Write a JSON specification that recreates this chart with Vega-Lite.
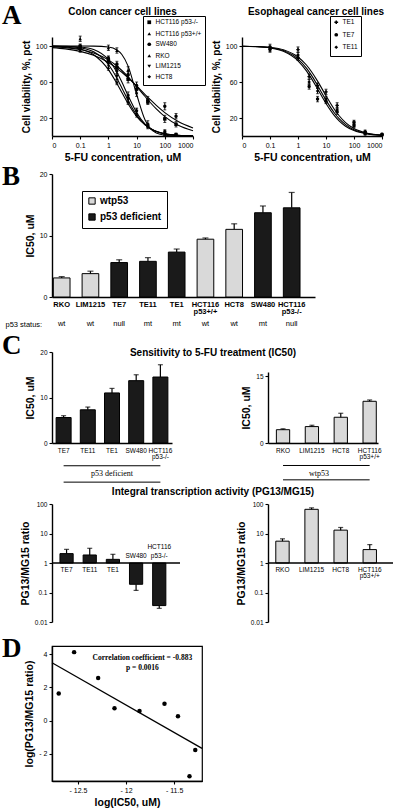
{
  "$schema": "https://vega.github.io/schema/vega-lite/v6.json",
  "background": "white",
  "padding": {"left": 2, "top": 2, "right": 2, "bottom": 0},
  "config": {
    "view": {"stroke": null},
    "font": "Liberation Sans",
    "axis": {"domainColor": "black", "domainWidth": 1.4, "tickColor": "black", "tickWidth": 1.1, "tickSize": 3, "labelColor": "black", "labelFontSize": 7, "labelFont": "Liberation Sans", "titleColor": "black", "titleFont": "Liberation Sans", "titleFontWeight": "bold", "titleFontSize": 10, "grid": false, "labelPadding": 2, "titlePadding": 4},
    "title": {"color": "black", "font": "Liberation Sans", "fontWeight": "bold", "fontSize": 10, "baseline": "alphabetic"},
    "legend": {"titleColor": "black", "labelColor": "black", "labelFont": "Liberation Sans"}
  },
  "resolve": {"scale": {"shape": "independent", "fill": "independent"}, "legend": {"shape": "independent", "fill": "independent"}},
  "datasets": {
    "one": [{"note": "annotation"}],
    "colonCurve": [
      {"line": "RKO", "conc": 0.01, "pct": 99.6}, {"line": "RKO", "conc": 0.03, "pct": 98.9}, {"line": "RKO", "conc": 0.1, "pct": 96.6}, {"line": "RKO", "conc": 0.3, "pct": 90.3}, {"line": "RKO", "conc": 1, "pct": 73.7}, {"line": "RKO", "conc": 2, "pct": 58.3}, {"line": "RKO", "conc": 3, "pct": 48.3}, {"line": "RKO", "conc": 5, "pct": 35.9}, {"line": "RKO", "conc": 10, "pct": 21.9}, {"line": "RKO", "conc": 20, "pct": 12.3}, {"line": "RKO", "conc": 30, "pct": 8.5}, {"line": "RKO", "conc": 50, "pct": 5.3}, {"line": "RKO", "conc": 100, "pct": 2.7}, {"line": "RKO", "conc": 300, "pct": 0.9}, {"line": "RKO", "conc": 1000, "pct": 0.3},
      {"line": "LIM1215", "conc": 0.01, "pct": 99.8}, {"line": "LIM1215", "conc": 0.03, "pct": 99.5}, {"line": "LIM1215", "conc": 0.1, "pct": 98.0}, {"line": "LIM1215", "conc": 0.3, "pct": 93.5}, {"line": "LIM1215", "conc": 1, "pct": 79.4}, {"line": "LIM1215", "conc": 2, "pct": 64.2}, {"line": "LIM1215", "conc": 3, "pct": 53.4}, {"line": "LIM1215", "conc": 5, "pct": 39.5}, {"line": "LIM1215", "conc": 10, "pct": 23.4}, {"line": "LIM1215", "conc": 20, "pct": 12.5}, {"line": "LIM1215", "conc": 30, "pct": 8.4}, {"line": "LIM1215", "conc": 50, "pct": 4.9}, {"line": "LIM1215", "conc": 100, "pct": 2.4}, {"line": "LIM1215", "conc": 300, "pct": 0.7}, {"line": "LIM1215", "conc": 1000, "pct": 0.2},
      {"line": "HCT8", "conc": 0.01, "pct": 99.9}, {"line": "HCT8", "conc": 0.03, "pct": 99.7}, {"line": "HCT8", "conc": 0.1, "pct": 98.9}, {"line": "HCT8", "conc": 0.3, "pct": 96.0}, {"line": "HCT8", "conc": 1, "pct": 84.8}, {"line": "HCT8", "conc": 2, "pct": 70.9}, {"line": "HCT8", "conc": 3, "pct": 60.0}, {"line": "HCT8", "conc": 5, "pct": 44.8}, {"line": "HCT8", "conc": 10, "pct": 26.1}, {"line": "HCT8", "conc": 20, "pct": 13.3}, {"line": "HCT8", "conc": 30, "pct": 8.6}, {"line": "HCT8", "conc": 50, "pct": 4.9}, {"line": "HCT8", "conc": 100, "pct": 2.2}, {"line": "HCT8", "conc": 300, "pct": 0.6}, {"line": "HCT8", "conc": 1000, "pct": 0.1},
      {"line": "HCT116 p53+/+", "conc": 0.01, "pct": 100}, {"line": "HCT116 p53+/+", "conc": 0.03, "pct": 100}, {"line": "HCT116 p53+/+", "conc": 0.1, "pct": 100}, {"line": "HCT116 p53+/+", "conc": 0.3, "pct": 99.9}, {"line": "HCT116 p53+/+", "conc": 1, "pct": 98.9}, {"line": "HCT116 p53+/+", "conc": 2, "pct": 95.6}, {"line": "HCT116 p53+/+", "conc": 3, "pct": 90.6}, {"line": "HCT116 p53+/+", "conc": 5, "pct": 77.6}, {"line": "HCT116 p53+/+", "conc": 10, "pct": 46.4}, {"line": "HCT116 p53+/+", "conc": 20, "pct": 17.8}, {"line": "HCT116 p53+/+", "conc": 30, "pct": 8.8}, {"line": "HCT116 p53+/+", "conc": 50, "pct": 3.3}, {"line": "HCT116 p53+/+", "conc": 100, "pct": 0.9}, {"line": "HCT116 p53+/+", "conc": 300, "pct": 0.1}, {"line": "HCT116 p53+/+", "conc": 1000, "pct": 0.0},
      {"line": "SW480", "conc": 0.01, "pct": 99.1}, {"line": "SW480", "conc": 0.03, "pct": 98.2}, {"line": "SW480", "conc": 0.1, "pct": 96.1}, {"line": "SW480", "conc": 0.3, "pct": 92.3}, {"line": "SW480", "conc": 1, "pct": 84.6}, {"line": "SW480", "conc": 2, "pct": 77.8}, {"line": "SW480", "conc": 3, "pct": 72.8}, {"line": "SW480", "conc": 5, "pct": 65.8}, {"line": "SW480", "conc": 10, "pct": 55.1}, {"line": "SW480", "conc": 20, "pct": 43.9}, {"line": "SW480", "conc": 30, "pct": 37.5}, {"line": "SW480", "conc": 50, "pct": 30.1}, {"line": "SW480", "conc": 100, "pct": 21.6}, {"line": "SW480", "conc": 300, "pct": 11.9}, {"line": "SW480", "conc": 1000, "pct": 5.8},
      {"line": "HCT116 p53-/-", "conc": 0.01, "pct": 98.2}, {"line": "HCT116 p53-/-", "conc": 0.03, "pct": 96.8}, {"line": "HCT116 p53-/-", "conc": 0.1, "pct": 94.0}, {"line": "HCT116 p53-/-", "conc": 0.3, "pct": 89.6}, {"line": "HCT116 p53-/-", "conc": 1, "pct": 81.6}, {"line": "HCT116 p53-/-", "conc": 2, "pct": 75.2}, {"line": "HCT116 p53-/-", "conc": 3, "pct": 70.8}, {"line": "HCT116 p53-/-", "conc": 5, "pct": 64.6}, {"line": "HCT116 p53-/-", "conc": 10, "pct": 55.6}, {"line": "HCT116 p53-/-", "conc": 20, "pct": 46.0}, {"line": "HCT116 p53-/-", "conc": 30, "pct": 40.6}, {"line": "HCT116 p53-/-", "conc": 50, "pct": 34.0}, {"line": "HCT116 p53-/-", "conc": 100, "pct": 26.0}, {"line": "HCT116 p53-/-", "conc": 300, "pct": 16.1}, {"line": "HCT116 p53-/-", "conc": 1000, "pct": 9.0}
    ],
    "colonPts": [
      {"line": "RKO", "conc": 0.1, "pct": 97, "err": 3}, {"line": "RKO", "conc": 1, "pct": 76, "err": 3}, {"line": "RKO", "conc": 2, "pct": 60, "err": 3}, {"line": "RKO", "conc": 5, "pct": 38, "err": 3}, {"line": "RKO", "conc": 10, "pct": 24, "err": 3}, {"line": "RKO", "conc": 25, "pct": 11, "err": 2}, {"line": "RKO", "conc": 100, "pct": 4, "err": 2}, {"line": "RKO", "conc": 250, "pct": 2, "err": 1},
      {"line": "LIM1215", "conc": 0.1, "pct": 99, "err": 3}, {"line": "LIM1215", "conc": 1, "pct": 81, "err": 3}, {"line": "LIM1215", "conc": 2, "pct": 66, "err": 3}, {"line": "LIM1215", "conc": 5, "pct": 42, "err": 4}, {"line": "LIM1215", "conc": 10, "pct": 27, "err": 3}, {"line": "LIM1215", "conc": 25, "pct": 10, "err": 2}, {"line": "LIM1215", "conc": 100, "pct": 3, "err": 1}, {"line": "LIM1215", "conc": 250, "pct": 1, "err": 1},
      {"line": "HCT8", "conc": 0.1, "pct": 96, "err": 3}, {"line": "HCT8", "conc": 1, "pct": 85, "err": 3}, {"line": "HCT8", "conc": 2, "pct": 72, "err": 3}, {"line": "HCT8", "conc": 5, "pct": 45, "err": 4}, {"line": "HCT8", "conc": 10, "pct": 28, "err": 3}, {"line": "HCT8", "conc": 25, "pct": 12, "err": 2}, {"line": "HCT8", "conc": 100, "pct": 5, "err": 2}, {"line": "HCT8", "conc": 250, "pct": 2, "err": 1},
      {"line": "HCT116 p53+/+", "conc": 0.1, "pct": 108, "err": 3}, {"line": "HCT116 p53+/+", "conc": 1, "pct": 98, "err": 3}, {"line": "HCT116 p53+/+", "conc": 2, "pct": 95, "err": 3}, {"line": "HCT116 p53+/+", "conc": 5, "pct": 73, "err": 4}, {"line": "HCT116 p53+/+", "conc": 10, "pct": 48, "err": 4}, {"line": "HCT116 p53+/+", "conc": 25, "pct": 14, "err": 3}, {"line": "HCT116 p53+/+", "conc": 100, "pct": 2, "err": 1}, {"line": "HCT116 p53+/+", "conc": 250, "pct": 1, "err": 1},
      {"line": "SW480", "conc": 0.1, "pct": 97, "err": 3}, {"line": "SW480", "conc": 1, "pct": 86, "err": 3}, {"line": "SW480", "conc": 2, "pct": 80, "err": 3}, {"line": "SW480", "conc": 5, "pct": 68, "err": 4}, {"line": "SW480", "conc": 10, "pct": 56, "err": 4}, {"line": "SW480", "conc": 25, "pct": 40, "err": 4}, {"line": "SW480", "conc": 100, "pct": 33, "err": 4}, {"line": "SW480", "conc": 250, "pct": 22, "err": 3},
      {"line": "HCT116 p53-/-", "conc": 0.1, "pct": 99, "err": 3}, {"line": "HCT116 p53-/-", "conc": 1, "pct": 84, "err": 3}, {"line": "HCT116 p53-/-", "conc": 2, "pct": 76, "err": 3}, {"line": "HCT116 p53-/-", "conc": 5, "pct": 63, "err": 4}, {"line": "HCT116 p53-/-", "conc": 10, "pct": 52, "err": 4}, {"line": "HCT116 p53-/-", "conc": 25, "pct": 38, "err": 3}, {"line": "HCT116 p53-/-", "conc": 100, "pct": 19, "err": 4}, {"line": "HCT116 p53-/-", "conc": 250, "pct": 13, "err": 3}
    ],
    "esoCurve": [
      {"line": "TE7", "conc": 0.01, "pct": 99.8}, {"line": "TE7", "conc": 0.03, "pct": 99.3}, {"line": "TE7", "conc": 0.1, "pct": 97.8}, {"line": "TE7", "conc": 0.3, "pct": 94.1}, {"line": "TE7", "conc": 1, "pct": 83.5}, {"line": "TE7", "conc": 2, "pct": 72.3}, {"line": "TE7", "conc": 3, "pct": 64.0}, {"line": "TE7", "conc": 5, "pct": 52.3}, {"line": "TE7", "conc": 10, "pct": 36.2}, {"line": "TE7", "conc": 20, "pct": 22.7}, {"line": "TE7", "conc": 30, "pct": 16.6}, {"line": "TE7", "conc": 50, "pct": 10.9}, {"line": "TE7", "conc": 100, "pct": 6.0}, {"line": "TE7", "conc": 300, "pct": 2.2}, {"line": "TE7", "conc": 1000, "pct": 0.7},
      {"line": "TE11", "conc": 0.01, "pct": 99.8}, {"line": "TE11", "conc": 0.03, "pct": 99.4}, {"line": "TE11", "conc": 0.1, "pct": 98.1}, {"line": "TE11", "conc": 0.3, "pct": 94.9}, {"line": "TE11", "conc": 1, "pct": 85.5}, {"line": "TE11", "conc": 2, "pct": 75.4}, {"line": "TE11", "conc": 3, "pct": 67.6}, {"line": "TE11", "conc": 5, "pct": 56.2}, {"line": "TE11", "conc": 10, "pct": 39.9}, {"line": "TE11", "conc": 20, "pct": 25.6}, {"line": "TE11", "conc": 30, "pct": 19.0}, {"line": "TE11", "conc": 50, "pct": 12.6}, {"line": "TE11", "conc": 100, "pct": 6.9}, {"line": "TE11", "conc": 300, "pct": 2.6}, {"line": "TE11", "conc": 1000, "pct": 0.8},
      {"line": "TE1", "conc": 0.01, "pct": 99.8}, {"line": "TE1", "conc": 0.03, "pct": 99.5}, {"line": "TE1", "conc": 0.1, "pct": 98.5}, {"line": "TE1", "conc": 0.3, "pct": 95.8}, {"line": "TE1", "conc": 1, "pct": 87.8}, {"line": "TE1", "conc": 2, "pct": 78.9}, {"line": "TE1", "conc": 3, "pct": 71.7}, {"line": "TE1", "conc": 5, "pct": 61.0}, {"line": "TE1", "conc": 10, "pct": 44.7}, {"line": "TE1", "conc": 20, "pct": 29.5}, {"line": "TE1", "conc": 30, "pct": 22.2}, {"line": "TE1", "conc": 50, "pct": 14.9}, {"line": "TE1", "conc": 100, "pct": 8.3}, {"line": "TE1", "conc": 300, "pct": 3.1}, {"line": "TE1", "conc": 1000, "pct": 1.0}
    ],
    "esoPts": [
      {"line": "TE1", "conc": 0.1, "pct": 99, "err": 3}, {"line": "TE1", "conc": 1, "pct": 96, "err": 3}, {"line": "TE1", "conc": 2.5, "pct": 66, "err": 3}, {"line": "TE1", "conc": 5, "pct": 56, "err": 3}, {"line": "TE1", "conc": 10, "pct": 49, "err": 3}, {"line": "TE1", "conc": 25, "pct": 34, "err": 3}, {"line": "TE1", "conc": 100, "pct": 15.5, "err": 2}, {"line": "TE1", "conc": 250, "pct": 5, "err": 1.5}, {"line": "TE1", "conc": 1000, "pct": 2, "err": 1},
      {"line": "TE11", "conc": 0.1, "pct": 97, "err": 3}, {"line": "TE11", "conc": 1, "pct": 90, "err": 3}, {"line": "TE11", "conc": 2.5, "pct": 60, "err": 3}, {"line": "TE11", "conc": 5, "pct": 50, "err": 3}, {"line": "TE11", "conc": 10, "pct": 41, "err": 3}, {"line": "TE11", "conc": 25, "pct": 29, "err": 3}, {"line": "TE11", "conc": 100, "pct": 13, "err": 2}, {"line": "TE11", "conc": 250, "pct": 3.5, "err": 1.5}, {"line": "TE11", "conc": 1000, "pct": 1.5, "err": 1},
      {"line": "TE7", "conc": 0.1, "pct": 96, "err": 3}, {"line": "TE7", "conc": 1, "pct": 87, "err": 3}, {"line": "TE7", "conc": 2.5, "pct": 55, "err": 3}, {"line": "TE7", "conc": 5, "pct": 41, "err": 3}, {"line": "TE7", "conc": 10, "pct": 39, "err": 3}, {"line": "TE7", "conc": 25, "pct": 27, "err": 3}, {"line": "TE7", "conc": 100, "pct": 11.5, "err": 2}, {"line": "TE7", "conc": 250, "pct": 2.5, "err": 1.5}, {"line": "TE7", "conc": 1000, "pct": 1, "err": 1}
    ],
    "ic50B": [
      {"cell": "RKO", "ic50": 3.1, "hi": 3.3, "group": "wtp53", "status": "wt"},
      {"cell": "LIM1215", "ic50": 3.8, "hi": 4.2, "group": "wtp53", "status": "wt"},
      {"cell": "TE7", "ic50": 5.6, "hi": 6.05, "group": "p53 deficient", "status": "null"},
      {"cell": "TE11", "ic50": 5.8, "hi": 6.4, "group": "p53 deficient", "status": "mt"},
      {"cell": "TE1", "ic50": 7.3, "hi": 7.8, "group": "p53 deficient", "status": "mt"},
      {"cell": "HCT116 p53+/+", "ic50": 9.4, "hi": 9.6, "group": "wtp53", "status": "wt"},
      {"cell": "HCT8", "ic50": 11.0, "hi": 11.9, "group": "wtp53", "status": "wt"},
      {"cell": "SW480", "ic50": 13.7, "hi": 14.8, "group": "p53 deficient", "status": "mt"},
      {"cell": "HCT116 p53-/-", "ic50": 14.5, "hi": 17.0, "group": "p53 deficient", "status": "null"}
    ],
    "ic50CL": [
      {"cell": "TE7", "ic50": 5.6, "hi": 6.0},
      {"cell": "TE11", "ic50": 7.3, "hi": 7.9},
      {"cell": "TE1", "ic50": 11.0, "hi": 12.0},
      {"cell": "SW480", "ic50": 13.7, "hi": 15.0},
      {"cell": "HCT116 p53-/-", "ic50": 14.5, "hi": 17.2}
    ],
    "ic50CR": [
      {"cell": "RKO", "ic50": 3.0, "hi": 3.2},
      {"cell": "LIM1215", "ic50": 3.7, "hi": 4.0},
      {"cell": "HCT8", "ic50": 5.8, "hi": 6.7},
      {"cell": "HCT116 p53+/+", "ic50": 9.4, "hi": 9.7}
    ],
    "ratioL": [
      {"cell": "TE7", "ratio": 2.08, "errEnd": 2.9},
      {"cell": "TE11", "ratio": 1.87, "errEnd": 3.15},
      {"cell": "TE1", "ratio": 1.33, "errEnd": 1.97},
      {"cell": "SW480", "ratio": 0.19, "errEnd": 0.118},
      {"cell": "HCT116 p53-/-", "ratio": 0.036, "errEnd": 0.029}
    ],
    "ratioR": [
      {"cell": "RKO", "ratio": 5.5, "errEnd": 6.6},
      {"cell": "LIM1215", "ratio": 66, "errEnd": 74},
      {"cell": "HCT8", "ratio": 13, "errEnd": 16},
      {"cell": "HCT116 p53+/+", "ratio": 2.85, "errEnd": 4.2}
    ],
    "corr": [
      {"logIC50": -12.70, "logRatio": 1.64},
      {"logIC50": -12.54, "logRatio": 4.13},
      {"logIC50": -12.29, "logRatio": 2.57},
      {"logIC50": -12.12, "logRatio": 0.74},
      {"logIC50": -11.86, "logRatio": 0.58},
      {"logIC50": -11.60, "logRatio": 1.02},
      {"logIC50": -11.46, "logRatio": 0.26},
      {"logIC50": -11.28, "logRatio": -1.77},
      {"logIC50": -11.34, "logRatio": -3.36}
    ],
    "fit": [
      {"logIC50": -12.77, "logRatio": 3.49},
      {"logIC50": -11.21, "logRatio": -1.67}
    ]
  },
  "columns": 4,
  "spacing": 0,
  "bounds": "flush",
  "concat": [
    {"width": 50, "height": 1, "data": {"values": []}, "mark": "point",
     "title": {"text": "A", "anchor": "start", "frame": "group", "baseline": "top", "offset": 6.7, "font": "Liberation Serif", "fontSize": 27, "fontWeight": "bold"}},
    {
      "width": 141, "height": 99,
      "title": {"text": "Colon cancer cell lines", "frame": "group", "offset": -1.5},
      "layer": [
        {"data": {"name": "colonCurve"}, "mark": {"type": "line", "interpolate": "monotone", "color": "black", "strokeWidth": 1.1},
         "encoding": {
           "x": {"field": "conc", "type": "quantitative", "scale": {"type": "log", "domain": [0.01, 1000]}, "axis": {"values": [0.01, 0.1, 1, 10, 100, 1000], "format": "~g", "labelExpr": "datum.value < 0.05 ? '0' : datum.label", "title": "5-FU concentration, uM", "titleFontSize": 10.5}},
           "y": {"field": "pct", "type": "quantitative", "scale": {"domain": [0, 106]}, "axis": {"values": [20, 40, 60, 80, 100], "title": "Cell viability, %"}},
           "detail": {"field": "line"}}},
        {"data": {"name": "colonPts"}, "mark": {"type": "errorbar", "color": "black", "ticks": {"size": 3}},
         "encoding": {"x": {"field": "conc", "type": "quantitative"}, "y": {"field": "pct", "type": "quantitative"}, "yError": {"field": "err"}}},
        {"data": {"name": "colonPts"}, "mark": {"type": "point", "filled": true, "color": "black", "size": 12, "opacity": 1},
         "encoding": {
           "x": {"field": "conc", "type": "quantitative"},
           "y": {"field": "pct", "type": "quantitative"},
           "shape": {"field": "line", "type": "nominal", "scale": {"domain": ["HCT116 p53-/-", "HCT116 p53+/+", "SW480", "RKO", "LIM1215", "HCT8"], "range": ["square", "triangle-up", "circle", "triangle-up", "triangle-down", "diamond"]},
             "legend": {"title": null, "orient": "none", "legendX": 91, "legendY": -21, "strokeColor": "black", "padding": 3, "labelFontSize": 6.5, "labelOffset": 3, "symbolSize": 14, "rowPadding": 0.5, "symbolFillColor": "black", "symbolStrokeColor": "black", "fillColor": "white"}}}}
      ]
    },
    {"width": 66, "height": 1, "data": {"values": []}, "mark": "point"},
    {
      "width": 114, "height": 99,
      "title": {"text": "Esophageal cancer cell lines", "frame": "group", "offset": -1.5, "dx": -9},
      "layer": [
        {"data": {"name": "esoCurve"}, "mark": {"type": "line", "interpolate": "monotone", "color": "black", "strokeWidth": 1.1},
         "encoding": {
           "x": {"field": "conc", "type": "quantitative", "scale": {"type": "log", "domain": [0.01, 1000], "range": [-26, 114]}, "axis": {"values": [0.01, 0.1, 1, 10, 100, 1000], "format": "~g", "labelExpr": "datum.value < 0.05 ? '0' : datum.label", "title": "5-FU concentration, uM", "titleFontSize": 10.5, "titleX": 44}},
           "y": {"field": "pct", "type": "quantitative", "scale": {"domain": [0, 106]}, "axis": {"values": [20, 40, 60, 80, 100], "title": "Cell viability, %", "offset": 26}},
           "detail": {"field": "line"}}},
        {"data": {"name": "esoPts"}, "mark": {"type": "errorbar", "color": "black", "ticks": {"size": 3}},
         "encoding": {"x": {"field": "conc", "type": "quantitative"}, "y": {"field": "pct", "type": "quantitative"}, "yError": {"field": "err"}}},
        {"data": {"name": "esoPts"}, "mark": {"type": "point", "filled": true, "color": "black", "size": 12, "opacity": 1},
         "encoding": {
           "x": {"field": "conc", "type": "quantitative"},
           "y": {"field": "pct", "type": "quantitative"},
           "shape": {"field": "line", "type": "nominal", "scale": {"domain": ["TE1", "TE7", "TE11"], "range": ["cross", "circle", "diamond"]},
             "legend": {"title": null, "orient": "none", "legendX": 62, "legendY": -21, "strokeColor": "black", "padding": 3, "labelFontSize": 6.5, "labelOffset": 3, "symbolSize": 14, "rowPadding": 1.5, "symbolFillColor": "black", "symbolStrokeColor": "black", "fillColor": "white"}}}}
      ]
    },

    {"width": 50, "height": 37.3, "data": {"values": []}, "mark": "point"},
    {"width": 1, "height": 1, "data": {"values": []}, "mark": "point"},
    {"width": 1, "height": 1, "data": {"values": []}, "mark": "point"},
    {"width": 1, "height": 1, "data": {"values": []}, "mark": "point"},

    {"width": 50, "height": 1, "data": {"values": []}, "mark": "point",
     "title": {"text": "B", "anchor": "start", "frame": "group", "offset": -17, "font": "Liberation Serif", "fontSize": 27, "fontWeight": "bold"}},
    {
      "width": 150, "height": 123,
      "data": {"name": "ic50B"},
      "encoding": {
        "x": {"field": "cell", "type": "nominal", "sort": null,
          "scale": {"domain": ["RKO", "LIM1215", "TE7", "TE11", "TE1", "HCT116 p53+/+", "HCT8", "SW480", "HCT116 p53-/-"], "range": [0, 263], "paddingInner": 0.42, "paddingOuter": 0.284, "align": 0.083},
          "axis": {"labelAngle": 0, "ticks": false, "labelFontSize": 7.5, "labelFontWeight": "bold", "labelLineHeight": 7.5, "labelPadding": 3,
            "labelExpr": "indexof(datum.label, ' ') < 0 ? datum.label : [slice(datum.label, 0, indexof(datum.label, ' ')), slice(datum.label, indexof(datum.label, ' ') + 1)]",
            "title": "p53 status:", "titleAngle": 0, "titleFontWeight": "normal", "titleFontSize": 7.5, "titleX": -47, "titleY": 27, "titleAlign": "left", "titleBaseline": "middle"}}
      },
      "layer": [
        {"mark": {"type": "bar", "stroke": "black", "strokeWidth": 1},
         "encoding": {
           "y": {"field": "ic50", "type": "quantitative", "scale": {"domain": [0, 20]}, "axis": {"values": [0, 5, 10, 15, 20], "title": "IC50, uM", "titleFontSize": 10.5}},
           "fill": {"field": "group", "type": "nominal", "scale": {"domain": ["wtp53", "p53 deficient"], "range": ["#d9d9d9", "#1a1a1a"]},
             "legend": {"title": null, "orient": "none", "legendX": 30, "legendY": 17, "strokeColor": "black", "padding": 5, "labelFontSize": 10, "labelFontWeight": "bold", "symbolType": "square", "symbolSize": 40, "symbolStrokeColor": "black", "symbolStrokeWidth": 1, "rowPadding": 4, "labelOffset": 3, "fillColor": "white"}}}},
        {"mark": {"type": "rule", "color": "black", "strokeWidth": 1.2}, "encoding": {"y": {"field": "ic50", "type": "quantitative"}, "y2": {"field": "hi"}}},
        {"mark": {"type": "tick", "color": "black", "size": 6, "thickness": 1.2}, "encoding": {"y": {"field": "hi", "type": "quantitative"}}},
        {"mark": {"type": "text", "baseline": "middle", "dy": 27, "fontSize": 7.5, "color": "black"}, "encoding": {"y": {"datum": 0}, "text": {"field": "status"}}}
      ]
    },
    {"width": 1, "height": 1, "data": {"values": []}, "mark": "point"},
    {"width": 1, "height": 1, "data": {"values": []}, "mark": "point"},

    {"width": 50, "height": 55, "data": {"values": []}, "mark": "point"},
    {"width": 1, "height": 1, "data": {"values": []}, "mark": "point"},
    {"width": 1, "height": 1, "data": {"values": []}, "mark": "point"},
    {"width": 1, "height": 1, "data": {"values": []}, "mark": "point"},

    {"width": 50, "height": 1, "data": {"values": []}, "mark": "point",
     "title": {"text": "C", "anchor": "start", "frame": "group", "offset": -8, "font": "Liberation Serif", "fontSize": 27, "fontWeight": "bold"}},
    {
      "width": 120, "height": 91,
      "layer": [
        {"data": {"name": "ic50CL"}, "mark": {"type": "bar", "color": "#1a1a1a", "stroke": "black", "strokeWidth": 1},
         "encoding": {
           "x": {"field": "cell", "type": "nominal", "scale": {"domain": ["TE7", "TE11", "TE1", "SW480", "HCT116 p53-/-"], "paddingInner": 0.38, "paddingOuter": 0.17},
             "axis": {"title": null, "labelAngle": 0, "ticks": false, "labelFontSize": 6.5, "labelLineHeight": 6, "labelPadding": 4,
               "labelExpr": "indexof(datum.label, ' ') < 0 ? datum.label : [slice(datum.label, 0, indexof(datum.label, ' ')), slice(datum.label, indexof(datum.label, ' ') + 1)]"}},
           "y": {"field": "ic50", "type": "quantitative", "scale": {"domain": [0, 20]}, "axis": {"values": [0, 10, 20], "title": "IC50, uM", "titleFontSize": 10.5, "labelFontSize": 6.5}}}},
        {"data": {"name": "ic50CL"}, "mark": {"type": "rule", "color": "black", "strokeWidth": 1.2}, "encoding": {"x": {"field": "cell", "type": "nominal"}, "y": {"field": "ic50", "type": "quantitative"}, "y2": {"field": "hi"}}},
        {"data": {"name": "ic50CL"}, "mark": {"type": "tick", "color": "black", "size": 5, "thickness": 1.2}, "encoding": {"x": {"field": "cell", "type": "nominal"}, "y": {"field": "hi", "type": "quantitative"}}},
        {"data": {"name": "one"}, "mark": {"type": "rule", "color": "black", "strokeWidth": 1}, "encoding": {"x": {"datum": "TE7"}, "x2": {"datum": "HCT116 p53-/-"}, "y": {"datum": -5}}},
        {"data": {"name": "one"}, "mark": {"type": "rule", "color": "black", "strokeWidth": 1}, "encoding": {"x": {"datum": "TE7"}, "x2": {"datum": "HCT116 p53-/-"}, "y": {"datum": -8.6}}},
        {"data": {"name": "one"}, "mark": {"type": "text", "text": "p53 deficient", "font": "Liberation Serif", "fontSize": 8, "baseline": "middle", "color": "black"}, "encoding": {"x": {"datum": "TE1"}, "y": {"datum": -6.9}}}
      ]
    },
    {"width": 66, "height": 1, "data": {"values": []}, "mark": "point",
     "title": {"text": "Sensitivity to 5-FU treatment (IC50)", "frame": "group", "offset": -6, "dx": -22, "fontSize": 10}},
    {
      "width": 110, "height": 91,
      "layer": [
        {"data": {"name": "ic50CR"}, "mark": {"type": "bar", "color": "#d9d9d9", "stroke": "black", "strokeWidth": 1},
         "encoding": {
           "x": {"field": "cell", "type": "nominal", "scale": {"domain": ["RKO", "LIM1215", "HCT8", "HCT116 p53+/+"], "paddingInner": 0.54, "paddingOuter": 0.175, "align": 0.83},
             "axis": {"title": null, "labelAngle": 0, "ticks": false, "labelFontSize": 6.5, "labelLineHeight": 6, "labelPadding": 4,
               "labelExpr": "indexof(datum.label, ' ') < 0 ? datum.label : [slice(datum.label, 0, indexof(datum.label, ' ')), slice(datum.label, indexof(datum.label, ' ') + 1)]"}},
           "y": {"field": "ic50", "type": "quantitative", "scale": {"domain": [0, 15], "range": [91, 20]}, "axis": {"values": [0, 5, 10, 15], "title": "IC50, uM", "titleFontSize": 10.5, "labelFontSize": 6.5}}}},
        {"data": {"name": "ic50CR"}, "mark": {"type": "rule", "color": "black", "strokeWidth": 1.2}, "encoding": {"x": {"field": "cell", "type": "nominal"}, "y": {"field": "ic50", "type": "quantitative"}, "y2": {"field": "hi"}}},
        {"data": {"name": "ic50CR"}, "mark": {"type": "tick", "color": "black", "size": 5, "thickness": 1.2}, "encoding": {"x": {"field": "cell", "type": "nominal"}, "y": {"field": "hi", "type": "quantitative"}}},
        {"data": {"name": "one"}, "mark": {"type": "rule", "color": "black", "strokeWidth": 1}, "encoding": {"x": {"datum": "RKO"}, "x2": {"datum": "HCT116 p53+/+"}, "y": {"datum": -5.07}}},
        {"data": {"name": "one"}, "mark": {"type": "rule", "color": "black", "strokeWidth": 1}, "encoding": {"x": {"datum": "RKO"}, "x2": {"datum": "HCT116 p53+/+"}, "y": {"datum": -8.3}}},
        {"data": {"name": "one"}, "mark": {"type": "text", "text": "wtp53", "font": "Liberation Serif", "fontSize": 8, "baseline": "middle", "dx": 7, "color": "black"}, "encoding": {"x": {"datum": "LIM1215"}, "y": {"datum": -6.9}}}
      ]
    },

    {"width": 50, "height": 61, "data": {"values": []}, "mark": "point"},
    {"width": 1, "height": 1, "data": {"values": []}, "mark": "point"},
    {"width": 1, "height": 1, "data": {"values": []}, "mark": "point"},
    {"width": 1, "height": 1, "data": {"values": []}, "mark": "point"},

    {"width": 50, "height": 1, "data": {"values": []}, "mark": "point"},
    {
      "width": 128, "height": 118,
      "layer": [
        {"data": {"name": "ratioL"}, "mark": {"type": "bar", "color": "#1a1a1a", "stroke": "black", "strokeWidth": 1},
         "encoding": {
           "x": {"field": "cell", "type": "nominal", "scale": {"domain": ["TE7", "TE11", "TE1", "SW480", "HCT116 p53-/-"], "paddingInner": 0.43, "paddingOuter": 0.477, "align": 0.36}, "axis": null},
           "y": {"field": "ratio", "type": "quantitative", "scale": {"type": "log", "domain": [0.01, 100]}, "axis": {"values": [0.01, 0.1, 1, 10, 100], "format": "~g", "title": "PG13/MG15 ratio", "titleFontSize": 10.5, "labelFontSize": 6.5}},
           "y2": {"datum": 1}}},
        {"data": {"name": "ratioL"}, "mark": {"type": "rule", "color": "black", "strokeWidth": 1.2}, "encoding": {"x": {"field": "cell", "type": "nominal"}, "y": {"field": "ratio", "type": "quantitative"}, "y2": {"field": "errEnd"}}},
        {"data": {"name": "ratioL"}, "mark": {"type": "tick", "color": "black", "size": 5, "thickness": 1.2}, "encoding": {"x": {"field": "cell", "type": "nominal"}, "y": {"field": "errEnd", "type": "quantitative"}}},
        {"data": {"name": "one"}, "mark": {"type": "rule", "color": "black", "strokeWidth": 1.6}, "encoding": {"y": {"datum": 1}}},
        {"data": {"name": "ratioL"}, "transform": [{"filter": "datum.ratio >= 1"}], "mark": {"type": "text", "baseline": "top", "dy": 4, "fontSize": 6.5, "color": "black"},
         "encoding": {"x": {"field": "cell", "type": "nominal"}, "y": {"datum": 1}, "text": {"field": "cell"}}},
        {"data": {"name": "ratioL"}, "transform": [{"filter": "datum.ratio < 1 && indexof(datum.cell, ' ') < 0"}], "mark": {"type": "text", "baseline": "bottom", "dy": -4, "fontSize": 6.5, "color": "black"},
         "encoding": {"x": {"field": "cell", "type": "nominal"}, "y": {"datum": 1}, "text": {"field": "cell"}}},
        {"data": {"name": "ratioL"}, "transform": [{"filter": "datum.ratio < 1 && indexof(datum.cell, ' ') >= 0"}], "mark": {"type": "text", "baseline": "bottom", "dy": -13, "fontSize": 6.5, "lineBreak": " ", "lineHeight": 9, "color": "black"},
         "encoding": {"x": {"field": "cell", "type": "nominal"}, "y": {"datum": 1}, "text": {"field": "cell"}}}
      ]
    },
    {"width": 66, "height": 1, "data": {"values": []}, "mark": "point",
     "title": {"text": "Integral transcription activity (PG13/MG15)", "frame": "group", "offset": 7, "dx": -22, "fontSize": 10}},
    {
      "width": 125, "height": 118,
      "layer": [
        {"data": {"name": "ratioR"}, "mark": {"type": "bar", "color": "#d9d9d9", "stroke": "black", "strokeWidth": 1},
         "encoding": {
           "x": {"field": "cell", "type": "nominal", "scale": {"domain": ["RKO", "LIM1215", "HCT8", "HCT116 p53+/+"], "paddingInner": 0.54, "paddingOuter": 0.418, "align": 0.32}, "axis": null},
           "y": {"field": "ratio", "type": "quantitative", "scale": {"type": "log", "domain": [0.01, 100]}, "axis": {"values": [0.01, 0.1, 1, 10, 100], "format": "~g", "title": "PG13/MG15 ratio", "titleFontSize": 10.5, "labelFontSize": 6.5}},
           "y2": {"datum": 1}}},
        {"data": {"name": "ratioR"}, "mark": {"type": "rule", "color": "black", "strokeWidth": 1.2}, "encoding": {"x": {"field": "cell", "type": "nominal"}, "y": {"field": "ratio", "type": "quantitative"}, "y2": {"field": "errEnd"}}},
        {"data": {"name": "ratioR"}, "mark": {"type": "tick", "color": "black", "size": 5, "thickness": 1.2}, "encoding": {"x": {"field": "cell", "type": "nominal"}, "y": {"field": "errEnd", "type": "quantitative"}}},
        {"data": {"name": "one"}, "mark": {"type": "rule", "color": "black", "strokeWidth": 1.6}, "encoding": {"y": {"datum": 1}}},
        {"data": {"name": "ratioR"}, "mark": {"type": "text", "baseline": "top", "dy": 4, "fontSize": 6.5, "lineBreak": " ", "lineHeight": 6, "color": "black"},
         "encoding": {"x": {"field": "cell", "type": "nominal"}, "y": {"datum": 1}, "text": {"field": "cell"}}}
      ]
    },

    {"width": 50, "height": 23.7, "data": {"values": []}, "mark": "point"},
    {"width": 1, "height": 1, "data": {"values": []}, "mark": "point"},
    {"width": 1, "height": 1, "data": {"values": []}, "mark": "point"},
    {"width": 1, "height": 1, "data": {"values": []}, "mark": "point"},

    {"width": 50, "height": 1, "data": {"values": []}, "mark": "point",
     "title": {"text": "D", "anchor": "start", "frame": "group", "offset": -17.3, "font": "Liberation Serif", "fontSize": 27, "fontWeight": "bold"}},
    {
      "width": 150, "height": 135,
      "view": {"stroke": "black", "strokeWidth": 1.2},
      "layer": [
        {"data": {"name": "fit"}, "mark": {"type": "line", "color": "black", "strokeWidth": 1.3},
         "encoding": {
           "x": {"field": "logIC50", "type": "quantitative", "scale": {"domain": [-12.77, -11.21], "nice": false, "zero": false}, "axis": {"values": [-12.5, -12, -11.5], "labelExpr": "'- ' + format(abs(datum.value), '.1~f')", "title": "log(IC50, uM)", "titleFontSize": 10.5}},
           "y": {"field": "logRatio", "type": "quantitative", "scale": {"domain": [-3.64, 4.5], "nice": false, "zero": false}, "axis": {"values": [-2, 0, 2, 4], "labelExpr": "datum.value < 0 ? '- ' + abs(datum.value) : datum.label", "title": "log(PG13/MG15 ratio)", "titleFontSize": 10.5}}}},
        {"data": {"name": "corr"}, "mark": {"type": "circle", "color": "black", "size": 20, "opacity": 1},
         "encoding": {"x": {"field": "logIC50", "type": "quantitative"}, "y": {"field": "logRatio", "type": "quantitative"}}},
        {"data": {"name": "one"}, "mark": {"type": "text", "text": "Correlation coefficient = -0.883", "font": "Liberation Serif", "fontWeight": "bold", "fontSize": 7.5, "color": "black"},
         "encoding": {"x": {"datum": -11.83}, "y": {"datum": 3.75}}},
        {"data": {"name": "one"}, "mark": {"type": "text", "text": "p = 0.0016", "font": "Liberation Serif", "fontWeight": "bold", "fontSize": 7.5, "color": "black"},
         "encoding": {"x": {"datum": -11.83}, "y": {"datum": 3.19}}}
      ]
    },
    {"width": 1, "height": 1, "data": {"values": []}, "mark": "point"},
    {"width": 1, "height": 1, "data": {"values": []}, "mark": "point"}
  ]
}
